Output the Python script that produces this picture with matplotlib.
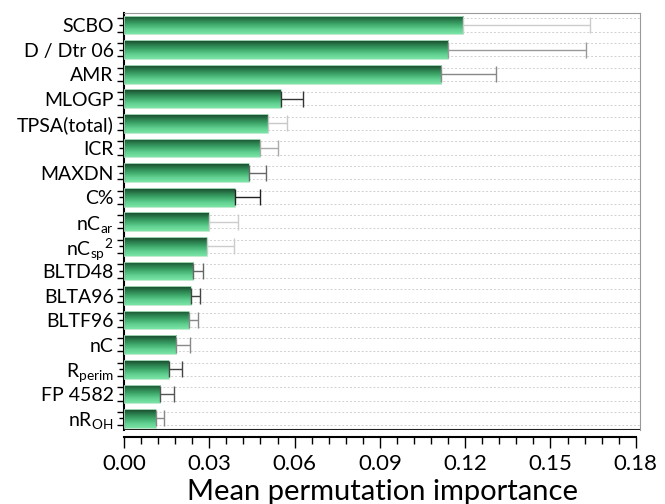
import numpy as np
import matplotlib
matplotlib.use("Agg")
import matplotlib.pyplot as plt
from matplotlib.ticker import MultipleLocator

# data (top to bottom)
features = ["SCBO", "D / Dtr 06", "AMR", "MLOGP", "TPSA(total)", "ICR", "MAXDN", "C%",
            r"nC$_{\mathrm{ar}}$", r"nC$_{\mathrm{sp}}$$^{\mathrm{2}}$", "BLTD48", "BLTA96",
            "BLTF96", "nC", r"R$_{\mathrm{perim}}$", "FP 4582", r"nR$_{\mathrm{OH}}$"]
importance = [0.1193, 0.1140, 0.1116, 0.0551, 0.0505, 0.0477, 0.0438, 0.0390,
              0.0298, 0.0291, 0.0243, 0.0235, 0.0227, 0.0183, 0.0157, 0.0127, 0.0112]
err = [0.0447, 0.0485, 0.0194, 0.0077, 0.0067, 0.0063, 0.0060, 0.0090,
       0.0102, 0.0095, 0.0034, 0.0032, 0.0032, 0.0049, 0.0046, 0.0049, 0.0028]
err_colors = ["#cccccc", "#999999", "#888888", "#333333", "#c8c8c8", "#aaaaaa", "#666666",
              "#222222", "#cccccc", "#cccccc", "#666666", "#444444", "#888888", "#888888",
              "#444444", "#555555", "#888888"]
xticks = [0.00, 0.03, 0.06, 0.09, 0.12, 0.15, 0.18]

plt.rcParams['font.family'] = ['Lato', 'DejaVu Sans']
plt.rcParams['mathtext.fontset'] = 'custom'
plt.rcParams['mathtext.rm'] = 'Lato'
plt.rcParams['mathtext.it'] = 'Lato:italic'

fig = plt.figure(figsize=(6.65, 5.04), dpi=100)
ax = fig.add_axes([0.1865, 0.1468, 0.7759, 0.8274])

y = np.arange(len(features))
bar_h = 0.76

# green gradient, dark at top to light at bottom
grad = np.linspace(0, 1, 64).reshape(-1, 1)
cmap = matplotlib.colors.LinearSegmentedColormap.from_list(
    "g", ["#17472c", "#2a7d4c", "#3fa96b", "#5fcf8f", "#7ae4a6"])

bars = ax.barh(y, importance, height=bar_h, color="none", edgecolor="#b5e9c8", linewidth=0.6, zorder=3)
for b in bars:
    x0, y0 = b.get_x(), b.get_y()
    w, h = b.get_width(), b.get_height()
    im = ax.imshow(grad, cmap=cmap, aspect="auto", extent=[x0, x0 + w, y0 + h, y0],
                   origin="upper", zorder=2)
    im.set_clip_path(b)

for i in range(len(features)):
    ax.errorbar(importance[i], y[i], xerr=[[0], [err[i]]], fmt="none",
                ecolor=err_colors[i], elinewidth=1.0, capsize=6, capthick=1.0, zorder=4)

ymin = len(features) - 0.53
ax.set_ylim(ymin, -0.49)
ax.set_xlim(0, 0.1815)

# dotted grid lines at minor y positions
minor_y = np.concatenate([y - 0.27, y + 0.27])
for m in minor_y:
    ax.axhline(m, color="#d0d0d0", linestyle=(0, (2, 2)), linewidth=0.7, zorder=1)

ax.spines["bottom"].set_position(("outward", 5))
ax.spines["bottom"].set_bounds(0, 0.18)
ax.spines["bottom"].set_linewidth(1.5)
ax.spines["left"].set_linewidth(1.5)
ax.spines["top"].set_color("#999999")
ax.spines["right"].set_color("#999999")
ax.axhline(ymin, color="#222222", linewidth=1.5, zorder=5)

ax.set_yticks(y)
ax.set_yticklabels(features)
ax.set_yticks(minor_y, minor=True)
ax.tick_params(axis="y", which="major", direction="inout", length=7, width=1, pad=4, labelsize=14)
ax.tick_params(axis="y", which="minor", direction="out", length=5, width=1)

ax.set_xticks(xticks)
ax.set_xticklabels(["%.2f" % v for v in xticks])
ax.xaxis.set_minor_locator(MultipleLocator(0.006))
ax.tick_params(axis="x", which="major", direction="out", length=8, width=1, labelsize=16, pad=4)
ax.tick_params(axis="x", which="minor", direction="out", length=5, width=1)
ax.set_xlabel("Mean permutation importance", fontsize=21, labelpad=4)

fig.savefig("out.png", dpi=100)
